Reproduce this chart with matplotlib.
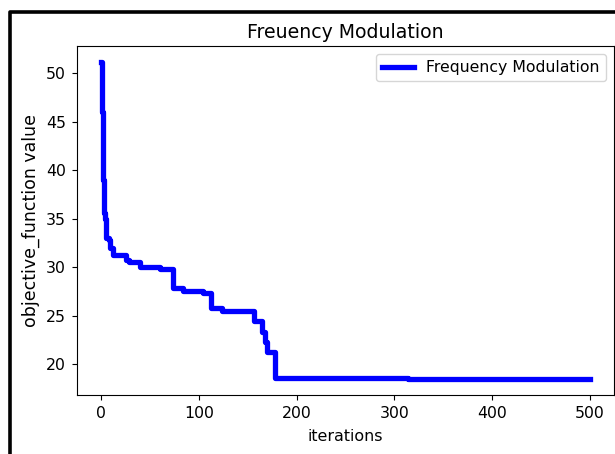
import matplotlib
matplotlib.use("Agg")
import matplotlib.pyplot as plt
from matplotlib.lines import Line2D

# breakpoints of best-so-far objective value (iteration, value)
iterations = [0, 1, 2, 3, 4, 5, 8, 9, 12, 25, 28, 40, 60, 73, 84, 104, 112, 124,
              156, 164, 168, 170, 178, 314, 342, 500]
values = [51.2, 46.0, 39.0, 35.6, 35.0, 33.0, 32.8, 32.0, 31.3, 30.7, 30.5, 30.0,
          29.8, 27.9, 27.5, 27.3, 25.8, 25.5, 24.4, 23.3, 22.3, 21.2, 18.6, 18.5,
          18.45, 18.45]

W, H = 615, 454
fig = plt.figure(figsize=(W / 100, H / 100), dpi=100)
ax = fig.add_axes([77 / W, 1 - 395 / H, (614 - 77) / W, (395 - 46) / H])

ax.plot(iterations, values, color="blue", linewidth=3.8, drawstyle="steps-post",
        label="Frequency Modulation")
ax.set_title("Freuency Modulation", fontsize=13.6)
ax.set_xlabel("iterations", fontsize=11.4, labelpad=6)
ax.set_ylabel("objective_function value", fontsize=12.5)
ax.tick_params(labelsize=11.3, pad=4.5)
ax.set_xticks([0, 100, 200, 300, 400, 500])
ax.set_yticks([20, 25, 30, 35, 40, 45, 50])
ax.legend(loc="upper right", fontsize=11.3)

# screenshot border
fig.add_artist(Line2D([10 / W, 10 / W, 1.01], [-0.01, 1 - 12 / H, 1 - 12 / H],
                      transform=fig.transFigure, color="black", linewidth=2.6))

fig.savefig("out.png", dpi=100)
